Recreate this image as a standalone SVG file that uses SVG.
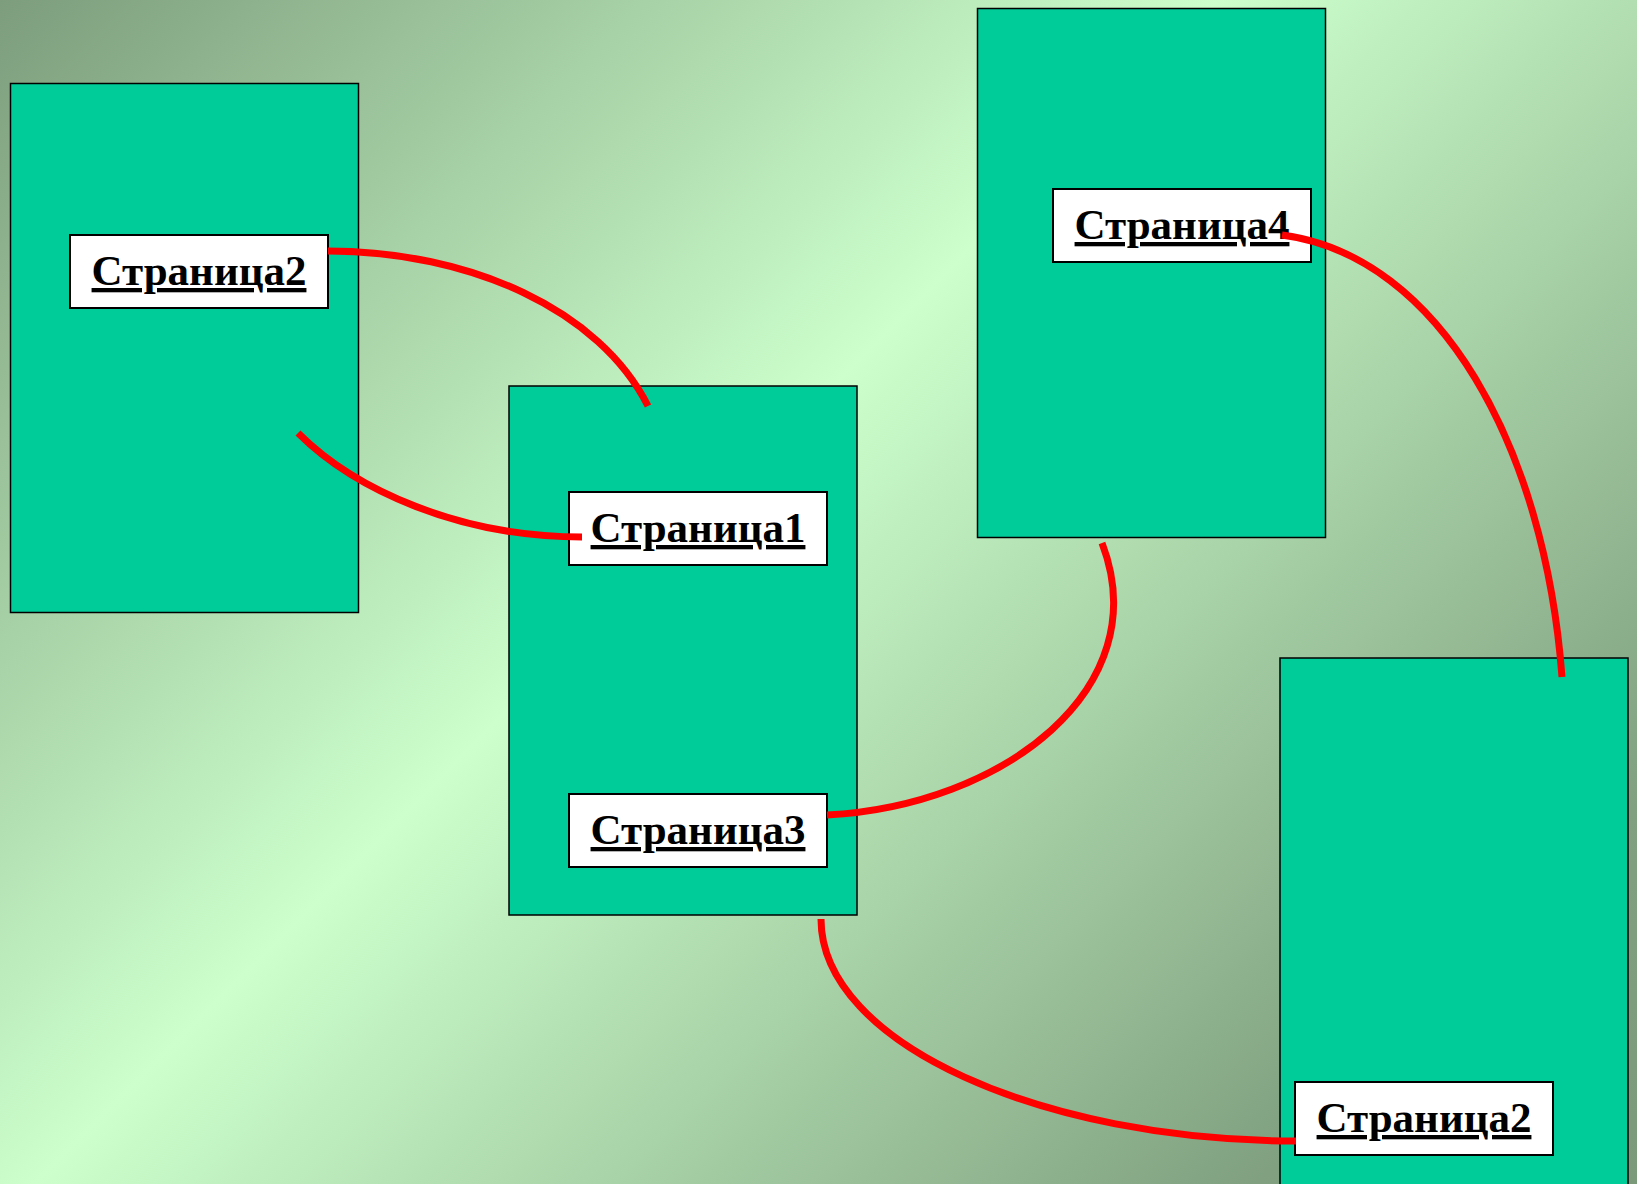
<svg xmlns="http://www.w3.org/2000/svg" width="1637" height="1184" viewBox="0 0 1637 1184">
<style>
.page{fill:#00cc99;stroke:#000;stroke-width:1.5}
.lbl{fill:#fff;stroke:#000;stroke-width:2}
.txt{font-family:"Liberation Serif","Times New Roman",serif;font-weight:bold;font-size:43px;fill:#000;text-anchor:middle;text-decoration:underline}
.link{fill:none;stroke:#ff0000;stroke-width:7}
</style>
<defs>
<linearGradient id="bg" gradientUnits="userSpaceOnUse" x1="0" y1="0" x2="1410.5" y2="1410.5">
<stop offset="0" stop-color="#7d9d7c"/>
<stop offset="0.432" stop-color="#ccffcc"/>
<stop offset="0.865" stop-color="#80a07f"/>
<stop offset="1" stop-color="#7a9a79"/>
</linearGradient>
</defs>
<rect x="0" y="0" width="1637" height="1184" fill="url(#bg)"/>
<g id="page-a">
<rect class="page" x="10.5" y="83.5" width="348" height="529"/>
<rect class="lbl" x="70" y="235" width="258" height="73"/>
<text class="txt" x="199" y="285">Страница2</text>
</g>
<g id="page-b">
<rect class="page" x="509" y="386" width="348" height="529"/>
<rect class="lbl" x="569" y="492" width="258" height="73"/>
<text class="txt" x="698" y="542">Страница1</text>
<rect class="lbl" x="569" y="794" width="258" height="73"/>
<text class="txt" x="698" y="844">Страница3</text>
</g>
<g id="page-c">
<rect class="page" x="977.5" y="8.5" width="348" height="529"/>
<rect class="lbl" x="1053" y="189" width="258" height="73"/>
<text class="txt" x="1182" y="239">Страница4</text>
</g>
<g id="page-d">
<rect class="page" x="1280" y="658" width="348" height="540"/>
<rect class="lbl" x="1295" y="1082" width="258" height="73"/>
<text class="txt" x="1424" y="1132">Страница2</text>
</g>
<g id="connectors">
<path class="link" d="M328,251 C470,251 600,310 648,406"/>
<path class="link" d="M298,433 C355,490 460,537 582,537"/>
<path class="link" d="M827,815 C1002,806 1158,689 1102,543"/>
<path class="link" d="M1282,235 C1441,256 1545,449 1562,677"/>
<path class="link" d="M821,919 C821,1044 1044,1141 1296,1141"/>
</g>
</svg>
